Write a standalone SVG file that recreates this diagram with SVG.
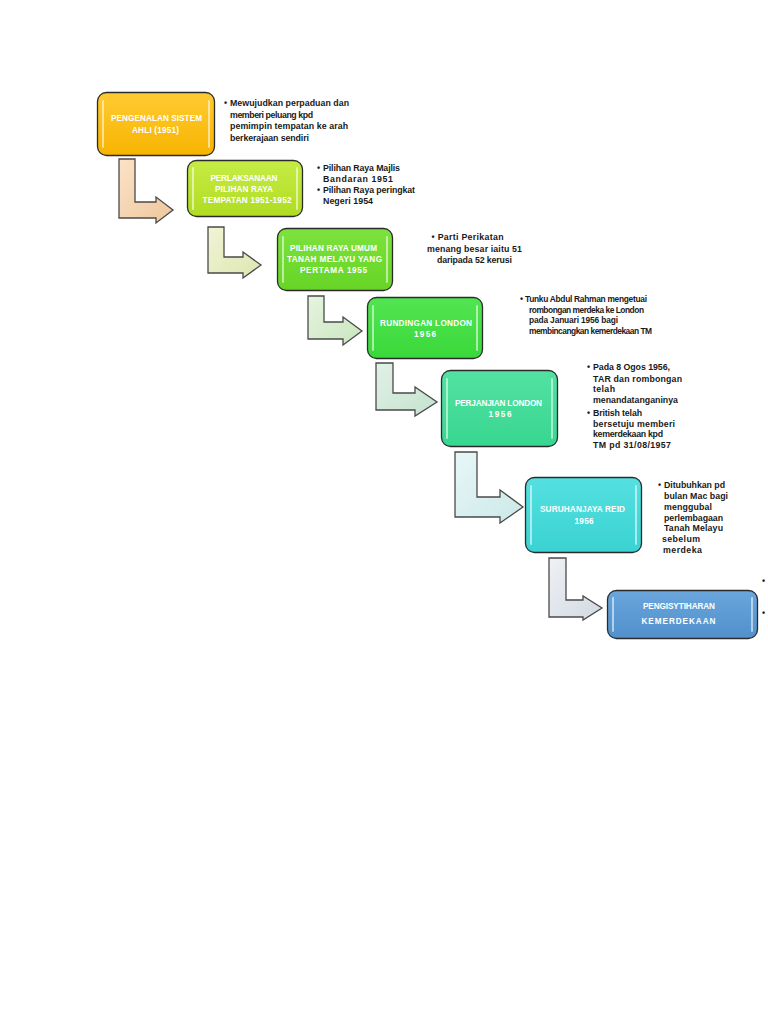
<svg xmlns="http://www.w3.org/2000/svg" width="768" height="1024" viewBox="0 0 768 1024">
<style>
  .box { stroke: #2b2b2b; stroke-width: 1.3; }
  .gloss { stroke: #ffffff; stroke-width: 2; stroke-opacity: 0.55; stroke-linecap: round; fill: none; }
  .lbl { font-family: "Liberation Sans", Arial, sans-serif; font-weight: bold; font-size: 8.2px; fill: #ffffff; text-anchor: middle; }
  .note { font-family: "Liberation Sans", Arial, sans-serif; font-weight: bold; font-size: 8.8px; fill: #1a1a1a; }
  .small { font-size: 8.4px; }
  .mid { text-anchor: middle; }
  .arr { stroke: #4a4a4a; stroke-width: 1.3; stroke-linejoin: miter; }
</style>
<defs>
  <linearGradient id="g1" x1="0" y1="0" x2="0" y2="1"><stop offset="0" stop-color="#ffcb33"/><stop offset="1" stop-color="#f7b400"/></linearGradient>
  <linearGradient id="g2" x1="0" y1="0" x2="0" y2="1"><stop offset="0" stop-color="#c6ec45"/><stop offset="1" stop-color="#b0dc22"/></linearGradient>
  <linearGradient id="g3" x1="0" y1="0" x2="0" y2="1"><stop offset="0" stop-color="#7de23e"/><stop offset="1" stop-color="#66d425"/></linearGradient>
  <linearGradient id="g4" x1="0" y1="0" x2="0" y2="1"><stop offset="0" stop-color="#52e552"/><stop offset="1" stop-color="#3ad83a"/></linearGradient>
  <linearGradient id="g5" x1="0" y1="0" x2="0" y2="1"><stop offset="0" stop-color="#52e2a2"/><stop offset="1" stop-color="#38d690"/></linearGradient>
  <linearGradient id="g6" x1="0" y1="0" x2="0" y2="1"><stop offset="0" stop-color="#55e0e0"/><stop offset="1" stop-color="#3ad2d2"/></linearGradient>
  <linearGradient id="g7" x1="0" y1="0" x2="0" y2="1"><stop offset="0" stop-color="#6aa6dc"/><stop offset="1" stop-color="#5190cc"/></linearGradient>
  <linearGradient id="a1" x1="0" y1="0" x2="1" y2="1"><stop offset="0" stop-color="#fbe3c6"/><stop offset="1" stop-color="#eec69c"/></linearGradient>
  <linearGradient id="a2" x1="0" y1="0" x2="1" y2="1"><stop offset="0" stop-color="#f1f4d6"/><stop offset="1" stop-color="#dde6b0"/></linearGradient>
  <linearGradient id="a3" x1="0" y1="0" x2="1" y2="1"><stop offset="0" stop-color="#e6f4df"/><stop offset="1" stop-color="#c9e6bf"/></linearGradient>
  <linearGradient id="a4" x1="0" y1="0" x2="1" y2="1"><stop offset="0" stop-color="#e1f1e6"/><stop offset="1" stop-color="#c4e2cf"/></linearGradient>
  <linearGradient id="a5" x1="0" y1="0" x2="1" y2="1"><stop offset="0" stop-color="#e8f7f7"/><stop offset="1" stop-color="#cbe8e8"/></linearGradient>
  <linearGradient id="a6" x1="0" y1="0" x2="1" y2="1"><stop offset="0" stop-color="#eef1f5"/><stop offset="1" stop-color="#d3d9e2"/></linearGradient>
</defs>
<rect width="768" height="1024" fill="#ffffff"/>

<g id="connectors">
  <path class="arr" fill="url(#a1)" d="M119,159 L135,159 L135,202 L156,202 L156,197 L173,210 L156,223 L156,218 L119,218 Z"/>
  <path class="arr" fill="url(#a2)" d="M208,227 L224,227 L224,257 L243,257 L243,252 L261,265 L243,278 L243,273 L208,273 Z"/>
  <path class="arr" fill="url(#a3)" d="M308,296 L324,296 L324,322 L343,322 L343,317 L362,331 L343,345 L343,339 L308,339 Z"/>
  <path class="arr" fill="url(#a4)" d="M376,363 L393,363 L393,393 L415,393 L415,387 L437,402 L415,416 L415,410 L376,410 Z"/>
  <path class="arr" fill="url(#a5)" d="M455,452 L477,452 L477,497 L500,497 L500,490 L523,507 L500,523 L500,517 L455,517 Z"/>
  <path class="arr" fill="url(#a6)" d="M549,558 L566,558 L566,600 L583,600 L583,596 L602,608 L583,620 L583,617 L549,617 Z"/>
</g>

<g id="node1">
  <rect class="box" x="97.5" y="92.5" width="117" height="63" rx="9" fill="url(#g1)"/>
  <line class="gloss" x1="103" y1="101" x2="103" y2="147"/><line class="gloss" x1="209" y1="101" x2="209" y2="147"/>
  <text class="lbl" x="156.5" y="121" textLength="91" lengthAdjust="spacing">PENGENALAN SISTEM</text>
  <text class="lbl" x="155.5" y="133" textLength="47" lengthAdjust="spacing">AHLI (1951)</text>
</g>
<g id="note1">
  <text class="note" x="224" y="106">•</text>
  <text class="note" x="230" y="106" textLength="119" lengthAdjust="spacing">Mewujudkan perpaduan dan</text>
  <text class="note" x="230" y="117.5" textLength="83" lengthAdjust="spacing">memberi peluang kpd</text>
  <text class="note" x="230" y="129" textLength="118" lengthAdjust="spacing">pemimpin tempatan ke arah</text>
  <text class="note" x="230" y="140.5" textLength="79" lengthAdjust="spacing">berkerajaan sendiri</text>
</g>

<g id="node2">
  <rect class="box" x="187.5" y="160.5" width="115" height="56" rx="9" fill="url(#g2)"/>
  <line class="gloss" x1="193" y1="168" x2="193" y2="209"/><line class="gloss" x1="297" y1="168" x2="297" y2="209"/>
  <text class="lbl" x="244" y="181" textLength="67" lengthAdjust="spacing">PERLAKSANAAN</text>
  <text class="lbl" x="244" y="192" textLength="58" lengthAdjust="spacing">PILIHAN RAYA</text>
  <text class="lbl" x="247" y="203" textLength="89" lengthAdjust="spacing">TEMPATAN 1951-1952</text>
</g>
<g id="note2">
  <text class="note" x="317" y="171">•</text>
  <text class="note" x="323" y="171" textLength="77" lengthAdjust="spacing">Pilihan Raya Majlis</text>
  <text class="note" x="323" y="181.5" textLength="70" lengthAdjust="spacing">Bandaran  1951</text>
  <text class="note" x="317" y="193">•</text>
  <text class="note" x="323" y="193" textLength="92" lengthAdjust="spacing">Pilihan Raya peringkat</text>
  <text class="note" x="323" y="203.5" textLength="50" lengthAdjust="spacing">Negeri 1954</text>
</g>

<g id="node3">
  <rect class="box" x="277.5" y="228.5" width="115" height="62" rx="9" fill="url(#g3)"/>
  <line class="gloss" x1="283" y1="237" x2="283" y2="282"/><line class="gloss" x1="387" y1="237" x2="387" y2="282"/>
  <text class="lbl" x="333.5" y="251" textLength="87" lengthAdjust="spacing">PILIHAN RAYA UMUM</text>
  <text class="lbl" x="334.5" y="262" textLength="95" lengthAdjust="spacing">TANAH MELAYU YANG</text>
  <text class="lbl" x="333.5" y="273" textLength="67" lengthAdjust="spacing">PERTAMA  1955</text>
</g>
<g id="note3">
  <text class="note mid" x="467.5" y="240" textLength="72" lengthAdjust="spacing">• Parti Perikatan</text>
  <text class="note mid" x="474.5" y="252" textLength="95" lengthAdjust="spacing">menang besar iaitu 51</text>
  <text class="note mid" x="474.5" y="263" textLength="75" lengthAdjust="spacing">daripada 52 kerusi</text>
</g>

<g id="node4">
  <rect class="box" x="367.5" y="297.5" width="115" height="61" rx="9" fill="url(#g4)"/>
  <line class="gloss" x1="373" y1="306" x2="373" y2="350"/><line class="gloss" x1="477" y1="306" x2="477" y2="350"/>
  <text class="lbl" x="426" y="326" textLength="92" lengthAdjust="spacing">RUNDINGAN LONDON</text>
  <text class="lbl" x="425" y="337" textLength="22" lengthAdjust="spacing">1956</text>
</g>
<g id="note4">
  <text class="note" x="520" y="302">•</text>
  <text class="note small" x="525" y="302" textLength="122" lengthAdjust="spacing">Tunku Abdul Rahman mengetuai</text>
  <text class="note small" x="529" y="312.5" textLength="115" lengthAdjust="spacing">rombongan merdeka ke London</text>
  <text class="note small" x="529" y="323" textLength="89" lengthAdjust="spacing">pada Januari 1956 bagi</text>
  <text class="note small" x="529" y="333.5" textLength="123" lengthAdjust="spacing">membincangkan kemerdekaan TM</text>
</g>

<g id="node5">
  <rect class="box" x="441.5" y="370.5" width="116" height="76" rx="9" fill="url(#g5)"/>
  <line class="gloss" x1="447" y1="379" x2="447" y2="438"/><line class="gloss" x1="552" y1="379" x2="552" y2="438"/>
  <text class="lbl" x="498.5" y="406" textLength="87" lengthAdjust="spacing">PERJANJIAN LONDON</text>
  <text class="lbl" x="500" y="417" textLength="23" lengthAdjust="spacing">1956</text>
</g>
<g id="note5">
  <text class="note" x="587" y="370">•</text>
  <text class="note" x="593" y="370" textLength="77" lengthAdjust="spacing">Pada 8 Ogos 1956,</text>
  <text class="note" x="593" y="381.5" textLength="89" lengthAdjust="spacing">TAR  dan rombongan</text>
  <text class="note" x="593" y="392" textLength="22" lengthAdjust="spacing">telah</text>
  <text class="note" x="593" y="403" textLength="85" lengthAdjust="spacing">menandatanganinya</text>
  <text class="note" x="587" y="416">•</text>
  <text class="note" x="593" y="416" textLength="49" lengthAdjust="spacing">British telah</text>
  <text class="note" x="593" y="426.5" textLength="82" lengthAdjust="spacing">bersetuju memberi</text>
  <text class="note" x="593" y="437" textLength="70" lengthAdjust="spacing">kemerdekaan kpd</text>
  <text class="note" x="593" y="448" textLength="78" lengthAdjust="spacing">TM pd  31/08/1957</text>
</g>

<g id="node6">
  <rect class="box" x="525.5" y="477.5" width="116" height="75" rx="9" fill="url(#g6)"/>
  <line class="gloss" x1="531" y1="486" x2="531" y2="544"/><line class="gloss" x1="636" y1="486" x2="636" y2="544"/>
  <text class="lbl" x="582.5" y="512" textLength="85" lengthAdjust="spacing">SURUHANJAYA REID</text>
  <text class="lbl" x="584" y="524" textLength="19" lengthAdjust="spacing">1956</text>
</g>
<g id="note6">
  <text class="note" x="658" y="488">•</text>
  <text class="note" x="664" y="488" textLength="61" lengthAdjust="spacing">Ditubuhkan pd</text>
  <text class="note" x="664" y="499" textLength="64" lengthAdjust="spacing">bulan Mac bagi</text>
  <text class="note" x="664" y="510" textLength="48" lengthAdjust="spacing">menggubal</text>
  <text class="note" x="664" y="520.5" textLength="59" lengthAdjust="spacing">perlembagaan</text>
  <text class="note" x="664" y="531" textLength="59" lengthAdjust="spacing">Tanah Melayu</text>
  <text class="note" x="662" y="542" textLength="38" lengthAdjust="spacing">sebelum</text>
  <text class="note" x="663" y="553" textLength="39" lengthAdjust="spacing">merdeka</text>
</g>

<g id="node7">
  <rect class="box" x="607.5" y="590.5" width="150" height="48" rx="9" fill="url(#g7)"/>
  <line class="gloss" x1="613" y1="598" x2="613" y2="631"/><line class="gloss" x1="752" y1="598" x2="752" y2="631"/>
  <text class="lbl" x="679" y="609" textLength="72" lengthAdjust="spacing">PENGISYTIHARAN</text>
  <text class="lbl" x="678.5" y="624" textLength="74" lengthAdjust="spacing">KEMERDEKAAN</text>
</g>
<g id="note7">
  <text class="note" x="762" y="584">•</text>
  <text class="note" x="762" y="616">•</text>
</g>
</svg>
